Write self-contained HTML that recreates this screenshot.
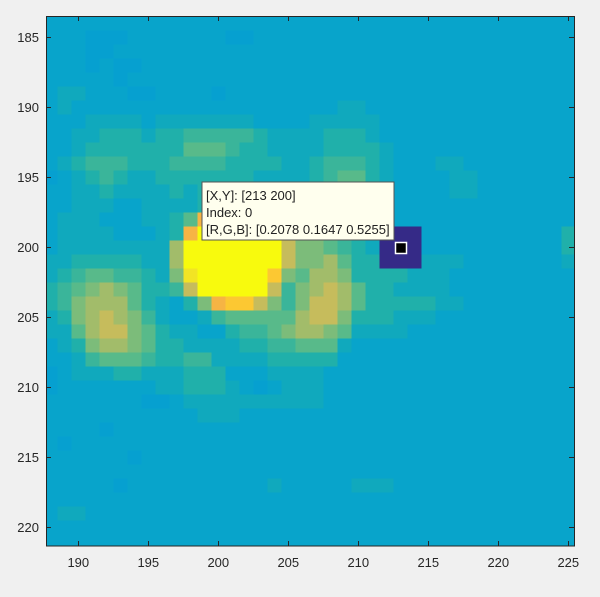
<!DOCTYPE html>
<html><head><meta charset="utf-8">
<style>
html,body{margin:0;padding:0;background:#f0f0f0;}
svg{display:block;font-family:"Liberation Sans",sans-serif;}
</style></head>
<body>
<svg id="chart" width="600" height="597" viewBox="0 0 600 597" xmlns="http://www.w3.org/2000/svg">
<defs><clipPath id="axclip"><rect x="46" y="16" width="528" height="530"/></clipPath></defs>
<g id="cells" clip-path="url(#axclip)" shape-rendering="crispEdges"></g>
<rect x="46.5" y="16.5" width="528" height="529.5" fill="none" stroke="#262626" stroke-width="1"/>
<g id="ticks"></g>
<g id="datatip">
  <rect x="395.5" y="242.5" width="11" height="11" fill="#000" stroke="#fff" stroke-width="1.5"/>
  <rect x="202" y="182" width="192" height="58" fill="#ffffee" stroke="#555" stroke-width="1"/>
  <text x="206" y="200" font-size="13" fill="#222">[X,Y]: [213 200]</text>
  <text x="206" y="217" font-size="13" fill="#222">Index: 0</text>
  <text x="206" y="234" font-size="13" fill="#222">[R,G,B]: [0.2078 0.1647 0.5255]</text>
</g>
</svg>
<script>
const xCols = [188,225];
const yRows = [184,221];
const xTicks = [190,195,200,205,210,215,220,225];
const yTicks = [185,190,195,200,205,210,215,220];
const levels = {"0":"#06a0d0","1":"#08a4cb","2":"#10a9bd","3":"#20b0aa","4":"#3ab59a","5":"#58ba8a","6":"#7cbc7a","7":"#a2bc6a","8":"#c6bc5c","G":"#f2e424","F":"#fcc832","O":"#f6b444","Y":"#f8fa0d","D":"#352a87"};
const grid = [
"11111111111111111111111111111111111111",
"11100011111110011111111111111111111111",
"11100111111111111111111111111111111111",
"11101001111111111111111111111111111111",
"11111011111111111111111111111111111111",
"12211100111101111111111111111111111111",
"12111111111111111111122111111111111111",
"11122221222222211112222211111111111111",
"11223332334444432222333211111111111111",
"11233333335554332222333321111111111111",
"12344433344443333223444321112211111111",
"01234322333333322223455321111221111111",
"11223222232333322233444321111221111111",
"11222112222333333344443321111111111111",
"12221112235OFF865445543321111111111111",
"1222211123OYYYYYG8665432DDD11111111113",
"1222222227YYYYYYY8665432DDD11111111113",
"2233333227YYYYYYY8667533DDD22211111112",
"2345544326GYYYYYF657763333222111111111",
"34567653348YYYYY8467875332222111111111",
"346777532136OFF86468875333332211111111",
"23678764211245555578863332221111111111",
"22578865322113445677652222111111111111",
"12367765332222334455521111111111111111",
"11245554334422223333311111111111111111",
"01222332223331112222111111111111111111",
"01111111223332101222111111111111111111",
"11111110012222222222111111111111111111",
"11111111111222111111111111111111111111",
"11110111111111111111111111111111111111",
"10111111111111111111111111111111111111",
"11111101111111111111111111111111111111",
"11111111111111111111111111111111111111",
"11111011111111112111112221111111111111",
"11111111111111111111111111111111111111",
"12211111111111111111111111111111111111",
"11111111111111111111111111111111111111",
"11111111111111111111111111111111111111"
];
const NS="http://www.w3.org/2000/svg";
const px = v => 78.3 + (v-190)*14;
const py = v => 37.3 + (v-185)*14;
const cells=document.getElementById('cells');
for(let r=0;r<grid.length;r++){
  for(let c=0;c<grid[r].length;c++){
    const xv=xCols[0]+c, yv=yRows[0]+r;
    const rc=document.createElementNS(NS,'rect');
    rc.setAttribute('x',px(xv-0.5));
    rc.setAttribute('y',py(yv-0.5));
    rc.setAttribute('width',14.3);
    rc.setAttribute('height',14.3);
    rc.setAttribute('fill',levels[grid[r][c]]);
    
    
    cells.appendChild(rc);
  }
}
const tg=document.getElementById('ticks');
function line(x1,y1,x2,y2){const l=document.createElementNS(NS,'line');l.setAttribute('x1',x1);l.setAttribute('y1',y1);l.setAttribute('x2',x2);l.setAttribute('y2',y2);l.setAttribute('stroke','#262626');l.setAttribute('stroke-width','1');


tg.appendChild(l);}
xTicks.forEach(v=>{
  const x=Math.round(px(v))+0.5;
  line(x,546,x,541); line(x,16,x,21);
  const t=document.createElementNS(NS,'text');
  t.setAttribute('x',px(v));t.setAttribute('y',567);t.setAttribute('text-anchor','middle');
  t.setAttribute('font-size','13');t.setAttribute('fill','#262626');t.textContent=v;
  
  
  tg.appendChild(t);
});
yTicks.forEach(v=>{
  const y=Math.round(py(v))+0.5;
  line(46,y,51,y); line(574,y,569,y);
  const t=document.createElementNS(NS,'text');
  t.setAttribute('x',39);t.setAttribute('y',py(v)+4.5);t.setAttribute('text-anchor','end');
  t.setAttribute('font-size','13');t.setAttribute('fill','#262626');t.textContent=v;
  
  
  tg.appendChild(t);
});
</script>
</body></html>
